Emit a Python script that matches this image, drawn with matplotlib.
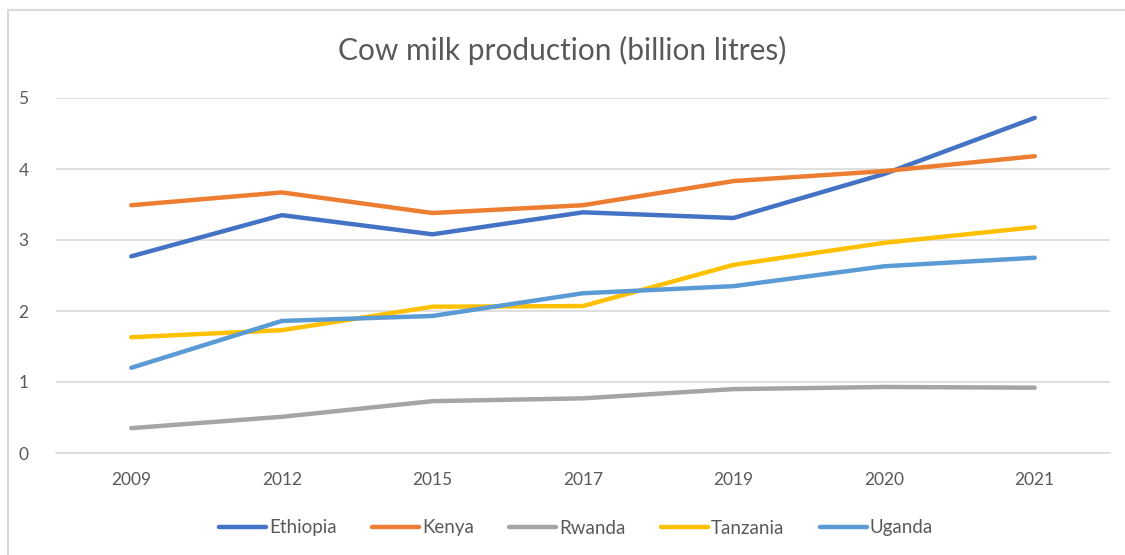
import matplotlib
matplotlib.use("Agg")
import matplotlib.pyplot as plt
from matplotlib.patches import Rectangle

years = ["2009", "2012", "2015", "2017", "2019", "2020", "2021"]
ethiopia = [2.77, 3.35, 3.08, 3.39, 3.31, 3.93, 4.72]
kenya = [3.49, 3.67, 3.38, 3.49, 3.83, 3.97, 4.18]
rwanda = [0.35, 0.51, 0.73, 0.77, 0.90, 0.93, 0.92]
tanzania = [1.63, 1.73, 2.06, 2.07, 2.65, 2.96, 3.18]
uganda = [1.20, 1.86, 1.93, 2.25, 2.35, 2.63, 2.75]

series = [
    ("Ethiopia", ethiopia, "#4472c4"),
    ("Kenya", kenya, "#ed7d31"),
    ("Rwanda", rwanda, "#a5a5a5"),
    ("Tanzania", tanzania, "#ffc000"),
    ("Uganda", uganda, "#5b9bd5"),
]

plt.rcParams["font.family"] = ["Lato", "DejaVu Sans"]
TEXT = "#595959"

fig = plt.figure(figsize=(11.25, 5.55), dpi=100)
fig.patches.append(Rectangle((8 / 1125, -0.01), 1.1, 1 - 10 / 555 + 0.01,
                             transform=fig.transFigure, fill=False,
                             edgecolor="#d9d9d9", linewidth=1.5))
ax = fig.add_axes([56 / 1125, 1 - 453 / 555, (1110 - 56) / 1125, (453 - 98) / 555])

x = list(range(len(years)))
for name, vals, color in series:
    ax.plot(x, vals, color=color, linewidth=3.2, solid_capstyle="round",
            solid_joinstyle="round", label=name)

ax.set_xlim(-0.5, len(years) - 0.5)
ax.set_ylim(0, 5)
ax.set_yticks(range(6))
ax.set_xticks(x)
ax.set_xticklabels(years)
ax.grid(axis="y", color="#d9d9d9", linewidth=1.2)
ax.set_axisbelow(True)
for s in ["top", "right", "left"]:
    ax.spines[s].set_visible(False)
ax.spines["bottom"].set_color("#d9d9d9")
ax.spines["bottom"].set_linewidth(1.2)
ax.tick_params(length=0, labelsize=12.5, labelcolor=TEXT)
ax.tick_params(axis="x", pad=14)
for lbl in ax.get_yticklabels():
    lbl.set_horizontalalignment("left")
ax.yaxis.set_tick_params(pad=27)

fig.text(0.5, 1 - 50 / 555, "Cow milk production (billion litres)", ha="center",
         va="center", fontsize=21.5, color=TEXT)

fig.legend(loc="center", bbox_to_anchor=(0.512, 1 - 528 / 555), ncol=5, frameon=False,
           fontsize=13.5, labelcolor=TEXT, handlelength=2.5, handletextpad=0.15,
           columnspacing=1.9)

fig.savefig("out.png", dpi=100)
